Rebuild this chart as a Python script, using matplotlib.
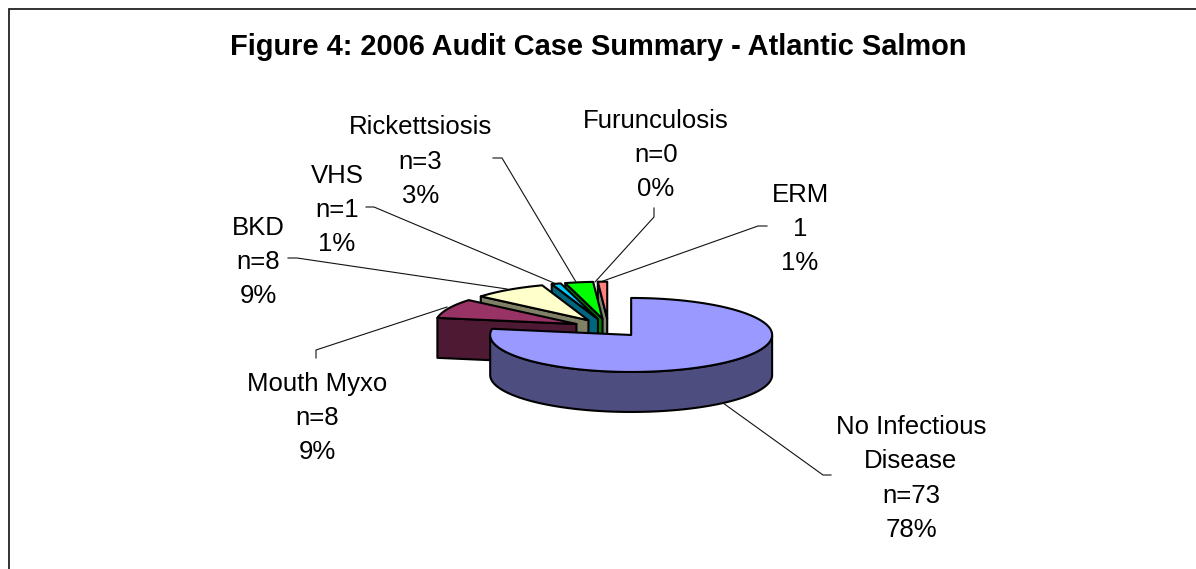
import numpy as np
import matplotlib
matplotlib.use("Agg")
import matplotlib.pyplot as plt
from matplotlib.patches import Polygon

# ---- data -----------------------------------------------------------
categories = ["No Infectious\nDisease", "Mouth Myxo", "BKD", "VHS",
              "Rickettsiosis", "Furunculosis", "ERM"]
counts = [73, 8, 8, 1, 3, 0, 1]
count_labels = ["n=73", "n=8", "n=8", "n=1", "n=3", "n=0", "1"]
percents = ["78%", "9%", "9%", "1%", "3%", "0%", "1%"]
top_colors = ["#9999FF", "#993366", "#FFFFCC", "#00CCFF", "#00FF00", "#FFFFFF", "#FF8080"]
side_colors = ["#4D4D80", "#4D1933", "#808066", "#006680", "#008000", "#808080", "#7F8570"]
label_xy = [(911, 476), (317, 415.5), (258, 259.5), (337, 207.5),
            (420.5, 159), (656, 152.5), (800, 226.5)]
leader_pts = [[(723, 403), (823, 475), (831, 475)],
              [(447, 307), (316, 350), (316, 358)],
              [(507, 289), (297, 258), (288, 258)],
              [(554, 283), (374, 207), (366, 207)],
              [(576, 282), (502, 158), (493, 158)],
              [(595, 282), (654, 217), (654, 208)],
              [(603, 281), (758, 226), (767, 226)]]
title = "Figure 4: 2006 Audit Case Summary - Atlantic Salmon"

# ---- layout ---------------------------------------------------------
W, H = 1196, 569
CX, CY = 608.4, 327.9    # undisplaced pie centre
RX, RY = 141, 37
DEPTH = 40
EXPLODE = 0.25
LINE_STEP = 34.4

plt.rcParams["font.family"] = ["Liberation Sans", "DejaVu Sans"]
fig = plt.figure(figsize=(W / 100, H / 100), dpi=100)
ax = fig.add_axes([0, 0, 1, 1])
ax.set_xlim(0, W)
ax.set_ylim(H, 0)
ax.axis("off")

ax.plot([8.5, 8.5, W + 5], [H + 5, 8.5, 8.5], color="#222222", lw=1.3, zorder=1,
        solid_joinstyle="miter")

cum = np.concatenate([[0], np.cumsum(counts)]) / sum(counts) * 2 * np.pi


def pt(cx, cy, a, dy=0):
    return (cx + RX * np.sin(a), cy - RY * np.cos(a) + dy)


slices = []
for i in range(len(counts)):
    a0, a1 = cum[i], cum[i + 1]
    mid = (a0 + a1) / 2
    cx = CX + EXPLODE * RX * np.sin(mid)
    cy = CY - EXPLODE * RY * np.cos(mid)
    slices.append((i, a0, a1, cx, cy))

# back to front: small slices at the top of the pie first
order = [6, 5, 4, 3, 2, 1, 0]
EDGE = dict(edgecolor="black", linewidth=1.5, joinstyle="round")
z = 3
for i in order:
    _, a0, a1, cx, cy = slices[i]
    if counts[i] == 0:
        continue
    arc = np.linspace(a0, a1, 160)
    # outer wall (front-facing part only)
    wall = arc[np.cos(arc) < 0]
    if len(wall) > 1:
        up = [pt(cx, cy, a) for a in wall]
        dn = [pt(cx, cy, a, DEPTH) for a in wall[::-1]]
        ax.add_patch(Polygon(up + dn, closed=True, facecolor=side_colors[i], zorder=z, **EDGE))
    z += 1
    # cut face along the slice's start edge (the main slice shows none)
    if i != 0:
        face = [(cx, cy), pt(cx, cy, a0), pt(cx, cy, a0, DEPTH), (cx, cy + DEPTH)]
        ax.add_patch(Polygon(face, closed=True, facecolor=side_colors[i], zorder=z, **EDGE))
    z += 1
    top = [(cx, cy)] + [pt(cx, cy, a) for a in arc]
    ax.add_patch(Polygon(top, closed=True, facecolor=top_colors[i], zorder=z, **EDGE))
    z += 1

# leader lines and labels
for pts in leader_pts:
    xs, ys = zip(*pts)
    ax.plot(xs, ys, color="#111111", lw=0.8, zorder=60)

FS = 18.5
for i in range(len(counts)):
    lines = categories[i].split("\n") + [count_labels[i], percents[i]]
    x, y = label_xy[i]
    for k, line in enumerate(lines):
        ax.text(x, y + (k - (len(lines) - 1) / 2) * LINE_STEP, line, ha="center",
                va="center_baseline", fontsize=FS, color="black", zorder=70)

ax.text(598, 55, title, ha="center", va="baseline", fontsize=20.9, fontweight="bold",
        color="black", zorder=70)

fig.savefig("out.png", dpi=100)
